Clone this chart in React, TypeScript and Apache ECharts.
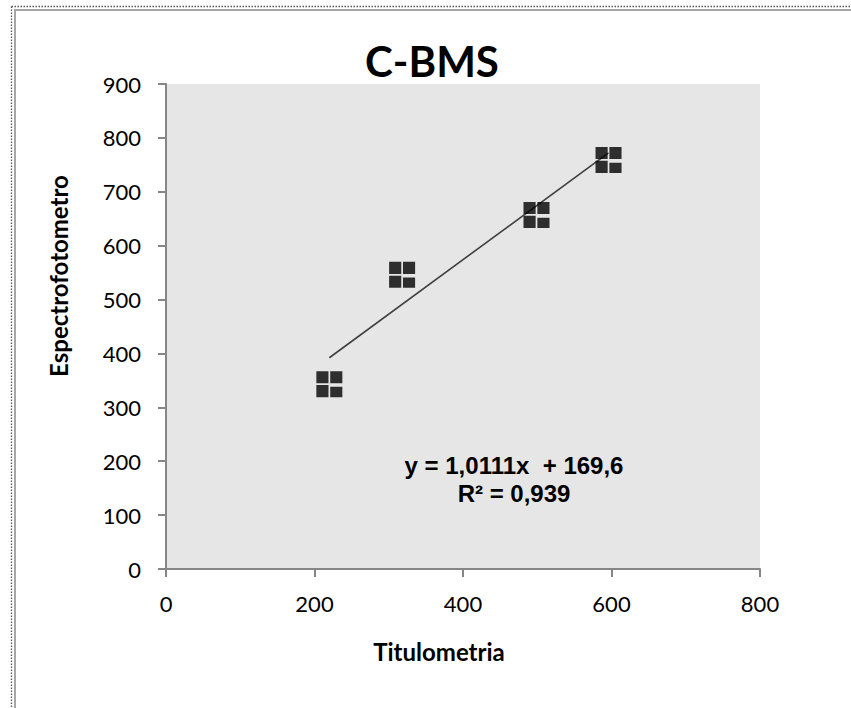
import React, { useEffect, useRef } from "react";
import * as echarts from "echarts";

const titleText = "C-BMS";
const xAxisTitle = "Titulometria";
const yAxisTitle = "Espectrofotometro";
const titulometria = [220, 318, 499, 596];
const espectrofotometro = [343, 546, 657, 759];
const trendSlope = 1.0111;
const trendIntercept = 169.6;
const equationLines = ["y = 1,0111x  + 169,6", "R² = 0,939"];

const markerPath =
  "path://M0,0H11.2V11.2H0Z M12.8,0H24V11.2H12.8Z M0,12.8H11.2V24H0Z M12.8,14.5H24V24H12.8Z";

export default function App() {
  const ref = useRef<HTMLDivElement>(null);
  useEffect(() => {
    document.body.style.margin = "0";
    if (!ref.current) return;
    const chart = echarts.init(ref.current, null, { renderer: "svg" });
    const points = titulometria.map((x, i) => [x, espectrofotometro[i]]);
    const minX = Math.min(...titulometria);
    const maxX = Math.max(...titulometria);
    const trend = [minX, maxX].map((x) => [x, trendSlope * x + trendIntercept]);
    chart.setOption({
      animation: false,
      backgroundColor: "#ffffff",
      grid: {
        left: 166,
        right: 91,
        top: 84,
        bottom: 139,
        show: true,
        backgroundColor: "#e6e6e6",
        borderWidth: 0,
      },
      xAxis: {
        type: "value",
        min: 0,
        max: 800,
        interval: 200,
        axisLine: { show: true, onZero: false, lineStyle: { color: "#868686", width: 2 } },
        axisTick: { show: true, length: 8, lineStyle: { color: "#868686", width: 2 } },
        splitLine: { show: false },
        axisLabel: { color: "#000", fontFamily: "Lato", fontSize: 22, margin: 23 },
      },
      yAxis: {
        type: "value",
        min: 0,
        max: 900,
        interval: 100,
        axisLine: { show: true, onZero: false, lineStyle: { color: "#868686", width: 2 } },
        axisTick: { show: true, length: 8, lineStyle: { color: "#868686", width: 2 } },
        splitLine: { show: false },
        axisLabel: { color: "#000", fontFamily: "Lato", fontSize: 22, margin: 25 },
      },
      series: [
        {
          type: "line",
          data: trend,
          symbol: "none",
          lineStyle: { color: "#404040", width: 1.6 },
          z: 2,
        },
        {
          type: "scatter",
          data: points,
          symbol: markerPath,
          symbolSize: 26,
          itemStyle: { color: "#000000" },
          z: 3,
        },
      ],
      graphic: [
        {
          type: "line",
          shape: { x1: 11.5, y1: 6.5, x2: 851, y2: 6.5 },
          style: { stroke: "#555", lineWidth: 1.3, lineDash: [1.5, 1.5] },
        },
        {
          type: "line",
          shape: { x1: 11.5, y1: 6.5, x2: 11.5, y2: 708 },
          style: { stroke: "#555", lineWidth: 1.3, lineDash: [1.5, 1.5] },
        },
        {
          type: "line",
          shape: { x1: 14, y1: 10, x2: 851, y2: 10 },
          style: { stroke: "#a6a6a6", lineWidth: 2 },
        },
        {
          type: "line",
          shape: { x1: 15, y1: 9, x2: 15, y2: 708 },
          style: { stroke: "#a6a6a6", lineWidth: 2 },
        },
        {
          type: "text",
          x: 432,
          y: 61,
          style: {
            text: titleText,
            font: "bold 42px Lato",
            fill: "#000",
            align: "center",
            verticalAlign: "middle",
          },
        },
        {
          type: "text",
          x: 439,
          y: 651,
          style: {
            text: xAxisTitle,
            font: "bold 24px Lato",
            fill: "#000",
            align: "center",
            verticalAlign: "middle",
          },
        },
        {
          type: "text",
          x: 58,
          y: 276,
          rotation: Math.PI / 2,
          style: {
            text: yAxisTitle,
            font: "bold 24px Lato",
            fill: "#000",
            align: "center",
            verticalAlign: "middle",
          },
        },
        {
          type: "text",
          x: 514,
          y: 479,
          style: {
            text: equationLines.join("\n"),
            font: "bold 24px 'Liberation Sans'",
            lineHeight: 28,
            fill: "#000",
            align: "center",
            verticalAlign: "middle",
          },
        },
      ],
    });
    return () => chart.dispose();
  }, []);
  return <div ref={ref} style={{ width: 851, height: 708 }} />;
}
